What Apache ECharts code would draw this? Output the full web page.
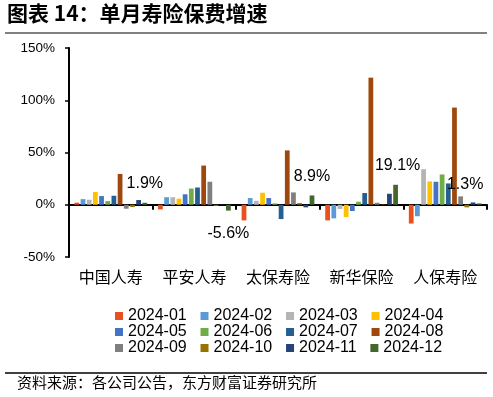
<!DOCTYPE html>
<html>
<head>
<meta charset="utf-8">
<script src="https://cdn.jsdelivr.net/npm/echarts@6/dist/echarts.min.js"></script>
<style>
  html, body { margin: 0; padding: 0; background: #fff; }
  #chart { width: 493px; height: 397px; }
</style>
</head>
<body>
<div id="chart"></div>
<script>
// 公司
const companies = ['中国人寿', '平安人寿', '太保寿险', '新华保险', '人保寿险']
// 月份
const months = ['2024-01', '2024-02', '2024-03', '2024-04', '2024-05', '2024-06',
  '2024-07', '2024-08', '2024-09', '2024-10', '2024-11', '2024-12']
const colors = ['#E8501F', '#5B9BD5', '#B4B4B4', '#FFC000', '#4472C4', '#70AD47',
  '#255E91', '#9E480E', '#7F7F7F', '#997300', '#264478', '#43682B']

// 单月寿险保费增速 (%)，按月份
const m01 = [2.0, -4.5, -15.0, -15.0, -18.0]
const m02 = [5.4, 7.2, 6.4, -13.0, -11.0]
const m03 = [4.8, 7.2, 3.8, -4.0, 34.0]
const m04 = [12.2, 5.8, 11.5, -11.8, 22.3]
const m05 = [8.3, 10.0, 6.4, -6.0, 22.0]
const m06 = [3.5, 15.5, 1.3, 2.9, 29.0]
const m07 = [8.6, 16.5, -13.7, 11.2, 20.4]
const m08 = [29.5, 37.5, 52.0, 121.6, 93.0]
const m09 = [-3.8, 22.0, 11.8, 1.9, 8.0]
const m10 = [-2.2, -1.0, 1.6, 0.3, -2.5]
const m11 = [4.5, -0.3, -2.5, 10.5, 2.2]
const m12 = [1.9, -5.6, 8.9, 19.1, 1.3]
const monthData = [m01, m02, m03, m04, m05, m06, m07, m08, m09, m10, m11, m12]

// 只给12月标数值，人保那个往左挪一点
const labelShiftX = [0, 0, 0, 2, -14]

const chart = echarts.init(document.getElementById('chart'))

const series = months.map(function (m, i) {
  let data = monthData[i]
  if (i === 11) {
    data = data.map(function (v, j) {
      return {
        value: v,
        label: {
          show: true,
          position: v < 0 ? 'bottom' : 'top',
          distance: v < 0 ? 15 : 11,
          offset: [labelShiftX[j], 0]
        }
      }
    })
  }
  return {
    name: m,
    type: 'bar',
    barCategoryGap: '13%',
    barGap: '30%',
    itemStyle: { color: colors[i] },
    label: {
      color: '#000',
      fontSize: 16,
      fontFamily: 'Liberation Sans',
      formatter: function (p) { return p.value.toFixed(1) + '%' }
    },
    data: data
  }
})

const legendRow = function (names, top) {
  return {
    data: names,
    left: 115,
    top: top,
    itemWidth: 8,
    itemHeight: 8,
    itemGap: 13.8,
    icon: 'rect',
    padding: 0,
    textStyle: { fontSize: 16, color: '#000', fontFamily: 'Liberation Sans' }
  }
}

const option = {
  animation: false,
  grid: { left: 69, right: 6, top: 48, bottom: 140 },
  legend: [
    legendRow(months.slice(0, 4), 308),
    legendRow(months.slice(4, 8), 324),
    legendRow(months.slice(8, 12), 340)
  ],
  xAxis: [
    {
      type: 'category',
      position: 'bottom',
      data: companies,
      axisLine: { show: false, onZero: false },
      axisTick: { show: false },
      axisLabel: {
        margin: 12,
        fontSize: 16,
        color: '#000',
        fontFamily: 'Noto Sans CJK SC'
      }
    },
    {
      // 0 轴线和分隔刻度
      type: 'category',
      position: 'bottom',
      data: companies,
      axisLine: { show: true, onZero: true, lineStyle: { color: '#000', width: 2 } },
      axisTick: { show: true, length: 5, lineStyle: { color: '#000', width: 2 } },
      axisLabel: { show: false }
    }
  ],
  yAxis: {
    type: 'value',
    min: -50,
    max: 150,
    interval: 50,
    splitLine: { show: false },
    axisLine: { show: true, lineStyle: { color: '#000', width: 2 } },
    axisTick: { show: true, length: 4, lineStyle: { color: '#000', width: 1.5 } },
    axisLabel: {
      formatter: '{value}%',
      margin: 14,
      fontSize: 13.5,
      color: '#000',
      fontFamily: 'Liberation Sans'
    }
  },
  graphic: [
    {
      type: 'text',
      left: 7,
      top: 3,
      style: {
        text: '图表 14：单月寿险保费增速',
        font: 'bold 21px "Noto Sans CJK SC"',
        fill: '#000'
      }
    },
    {
      type: 'line',
      shape: { x1: 5, y1: 33, x2: 487, y2: 33 },
      style: { stroke: '#808080', lineWidth: 2 }
    },
    {
      type: 'line',
      shape: { x1: 5, y1: 373, x2: 487, y2: 373 },
      style: { stroke: '#000', lineWidth: 1.5 }
    },
    {
      type: 'text',
      left: 17,
      top: 375,
      style: {
        text: '资料来源：各公司公告，东方财富证券研究所',
        font: '15px "Noto Sans CJK SC"',
        fill: '#000'
      }
    }
  ],
  series: series
}

chart.setOption(option)
</script>
</body>
</html>
